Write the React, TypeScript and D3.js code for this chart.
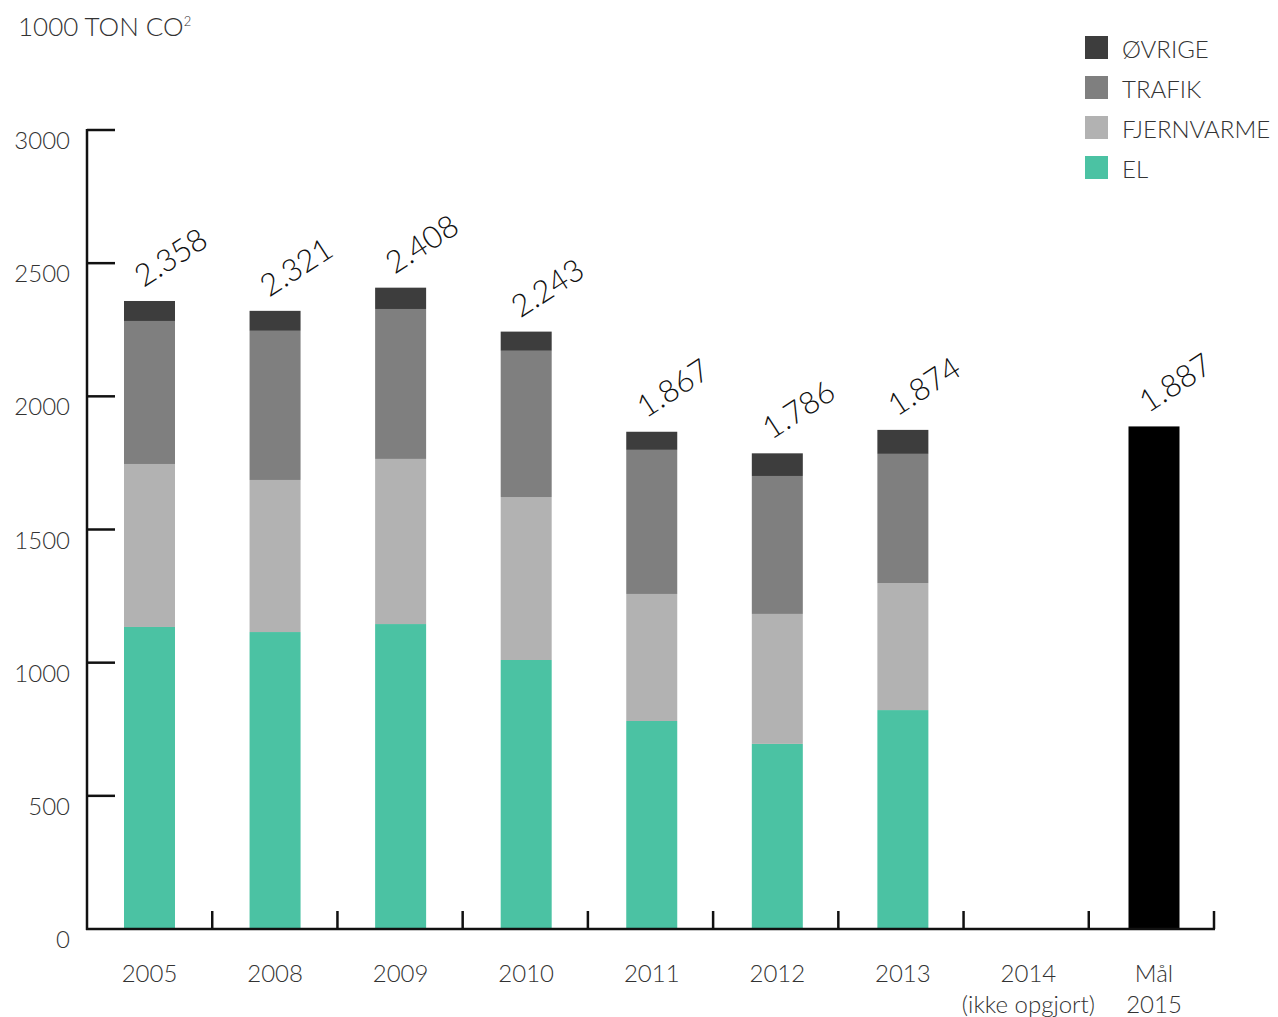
import React from "react";
import * as d3 from "d3";

const categories = ["2005", "2008", "2009", "2010", "2011", "2012", "2013", "2014", "Mål"];
const subLabels = ["", "", "", "", "", "", "", "(ikke opgjort)", "2015"];
const seriesNames = ["EL", "FJERNVARME", "TRAFIK", "ØVRIGE"];
const elValues = [1134, 1115, 1145, 1010, 781, 695, 822, null, null];
const fjernvarmeValues = [612, 571, 620, 612, 477, 488, 477, null, null];
const trafikValues = [537, 560, 563, 549, 541, 518, 485, null, null];
const ovrigeValues = [75, 75, 80, 72, 68, 85, 90, null, null];
const totalLabels = ["2.358", "2.321", "2.408", "2.243", "1.867", "1.786", "1.874", "", "1.887"];
const targetValues = [null, null, null, null, null, null, null, null, 1887];
const yTicks = [0, 500, 1000, 1500, 2000, 2500, 3000];
const colors = ["#4bc2a3", "#b2b2b2", "#7f7f7f", "#3d3d3d"];

const FONT = "'Lato', 'Open Sans', sans-serif";

export default function App() {
  const W = 1278, H = 1017;
  const x0 = 87, x1 = 1214;
  const yScale = d3.scaleLinear().domain([0, 3000]).range([929, 130]);
  const xBand = d3.scaleBand<string>().domain(categories).range([x0, x1]).paddingInner(0).paddingOuter(0);
  const xCenter = d3.scalePoint<string>().domain(categories).range([149.5, 1154]);
  const bw = 51;
  const seriesData = [elValues, fjernvarmeValues, trafikValues, ovrigeValues];

  const rects: JSX.Element[] = [];
  const labels: JSX.Element[] = [];
  categories.forEach((c, i) => {
    const cx = xCenter(c) as number;
    let acc = 0;
    let hasData = false;
    seriesData.forEach((s, si) => {
      const v = s[i];
      if (v == null) return;
      hasData = true;
      const yTop = yScale(acc + v);
      const yBot = yScale(acc);
      rects.push(<rect key={`r${i}-${si}`} x={cx - bw / 2} y={yTop} width={bw} height={yBot - yTop} fill={colors[si]} />);
      acc += v;
    });
    const t = targetValues[i];
    if (t != null) {
      const yTop = yScale(t);
      rects.push(<rect key={`t${i}`} x={cx - bw / 2} y={yTop} width={bw} height={yScale(0) - yTop} fill="#000" />);
      acc = t;
      hasData = true;
    }
    if (hasData && totalLabels[i]) {
      const lx = cx - 6;
      const ly = yScale(acc) - 13;
      labels.push(
        <text key={`l${i}`} x={lx} y={ly} transform={`rotate(-33 ${lx} ${ly})`}
          fontSize={31} fontFamily={FONT} fontWeight={300} fill="#111">{totalLabels[i]}</text>
      );
    }
  });

  const legendItems = [3, 2, 1, 0];

  return (
    <svg width={W} height={H} style={{ position: "absolute", left: 0, top: 0 }}>
      <text x={18} y={36} fontSize={26} fontFamily={FONT} fontWeight={300} fill="#333">
        1000 TON CO<tspan fontSize={13} dy={-10}>2</tspan>
      </text>
      {rects}
      {/* y axis */}
      <line x1={x0} x2={x0} y1={yScale(3000) - 1} y2={yScale(0) + 1} stroke="#111" strokeWidth={2.5} />
      {yTicks.map((t) => (
        <g key={`yt${t}`}>
          {t > 0 && <line x1={x0} x2={x0 + 28} y1={yScale(t)} y2={yScale(t)} stroke="#111" strokeWidth={2.5} />}
          <text x={70} y={yScale(t) + 19} textAnchor="end" fontSize={24} fontFamily={FONT} fontWeight={300} fill="#333">{t}</text>
        </g>
      ))}
      {/* x axis */}
      <line x1={x0 - 1} x2={x1 + 1} y1={yScale(0)} y2={yScale(0)} stroke="#111" strokeWidth={2.5} />
      {categories.map((c, i) => {
        const xr = (xBand(c) as number) + xBand.bandwidth();
        return <line key={`xt${i}`} x1={xr} x2={xr} y1={yScale(0)} y2={yScale(0) - 18} stroke="#111" strokeWidth={2.5} />;
      })}
      {categories.map((c, i) => {
        const cx = xCenter(c) as number;
        return (
          <g key={`xl${i}`}>
            <text x={cx} y={982} textAnchor="middle" fontSize={24} fontFamily={FONT} fontWeight={300} fill="#333">{c}</text>
            {subLabels[i] && <text x={cx} y={1013} textAnchor="middle" fontSize={24} fontFamily={FONT} fontWeight={300} fill="#333">{subLabels[i]}</text>}
          </g>
        );
      })}
      {labels}
      {legendItems.map((si, k) => (
        <g key={`lg${si}`}>
          <rect x={1085} y={36 + k * 40} width={23} height={23} fill={colors[si]} />
          <text x={1122} y={58 + k * 40} fontSize={24} fontFamily={FONT} fontWeight={300} fill="#333">{seriesNames[si]}</text>
        </g>
      ))}
    </svg>
  );
}
